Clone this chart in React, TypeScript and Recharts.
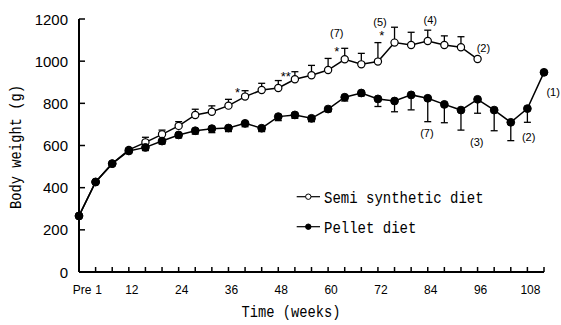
import React from "react";
import {
  ComposedChart, Line, XAxis, YAxis, ErrorBar, ReferenceDot, Legend, Label,
} from "recharts";

// weeks on the time axis (Pre = 0)
const WEEKS = [0, 4, 8, 12, 16, 20, 24, 28, 32, 36, 40, 44, 48, 52, 56, 60, 64, 68, 72, 76, 80, 84, 88, 92, 96, 100, 104, 108, 112];

// semi synthetic diet: mean and upper error (g)
const SEMI = [266, 427, 514, 579, 615, 653, 693, 745, 760, 789, 832, 863, 873, 914, 933, 958, 1009, 985, 998, 1088, 1077, 1096, 1077, 1066, 1010];
const SEMI_ERR = [0, 0, 5, 8, 24, 20, 20, 27, 28, 30, 28, 32, 35, 36, 47, 55, 52, 52, 90, 73, 60, 51, 43, 50, 0];

// pellet diet: mean and lower error (g)
const PELLET = [266, 427, 514, 574, 591, 621, 650, 670, 680, 683, 705, 682, 737, 745, 729, 773, 829, 849, 821, 811, 840, 824, 795, 768, 819, 768, 710, 775, 947];
const PELLET_ERR = [0, 0, 5, 8, 15, 14, 14, 16, 19, 17, 16, 16, 19, 16, 16, 13, 18, 14, 36, 51, 71, 111, 87, 95, 66, 98, 87, 65, 0];

const X_LABELS: Record<number, string> = {
  0: "Pre", 4: "1", 12: "12", 24: "24", 36: "36", 48: "48", 60: "60", 72: "72", 84: "84", 96: "96", 108: "108",
};
const Y_TICKS = [0, 200, 400, 600, 800, 1000, 1200];

// significance marks and group sizes, placed in data units
const NOTE_WEEK = [38.2, 49.8, 62.1, 62.1, 72.9, 72.5, 84.6, 97.4, 83.8, 95.8, 108.3, 114.2];
const NOTE_VALUE = [850, 930, 1045, 1132, 1120, 1187, 1195, 1061, 661, 618, 639, 855];
const NOTE_TEXT = ["*", "**", "*", "(7)", "*", "(5)", "(4)", "(2)", "(7)", "(3)", "(2)", "(1)"];

const SANS = "'Liberation Sans', Arial, sans-serif";
const MONO = "'Liberation Mono', 'DejaVu Sans Mono', monospace";

const data = WEEKS.map((w, i) => ({
  week: w,
  semi: i < SEMI.length ? SEMI[i] : null,
  semiErr: i < SEMI.length ? [0, SEMI_ERR[i]] : undefined,
  pellet: PELLET[i],
  pelletErr: [PELLET_ERR[i], 0],
}));

function XTick({ x, y, payload }: any) {
  const label = X_LABELS[payload.value];
  return (
    <g>
      {payload.value > 0 && (
        <line x1={x} y1={y} x2={x} y2={y - 5} stroke="#000" strokeWidth={1.5} />
      )}
      {label && (
        <text x={x + 3} y={y + 22} textAnchor="middle" fontSize={12} fontFamily={SANS} fill="#000">
          {label}
        </text>
      )}
    </g>
  );
}

function YTick({ x, y, payload }: any) {
  return (
    <g>
      <line x1={x} y1={y} x2={x + 6} y2={y} stroke="#000" strokeWidth={1.5} />
      <text x={x - 11} y={y + 5.5} textAnchor="end" fontSize={15} fontFamily={SANS} fill="#000">
        {payload.value}
      </text>
    </g>
  );
}

function renderLegend(props: any) {
  const items = props.payload || [];
  return (
    <svg width={240} height={70} style={{ overflow: "visible" }}>
      {items.map((p: any) => {
        const open = p.dataKey === "semi";
        const cy = open ? 14.7 : 44.7;
        return (
          <g key={p.value}>
            <line x1={6.7} x2={30} y1={cy} y2={cy} stroke="#000" strokeWidth={1.2} />
            <circle cx={18.3} cy={cy} r={2.7} fill={open ? "#fff" : "#000"} stroke="#000" strokeWidth={1} />
            <text
              x={34} y={cy + 6.6} fontFamily={MONO} fontSize={17} fill="#000"
              textLength={p.value.length * 8.4} lengthAdjust="spacingAndGlyphs"
            >
              {p.value}
            </text>
          </g>
        );
      })}
    </svg>
  );
}

export default function App() {
  return (
    <div style={{ position: "absolute", left: 0, top: 0, background: "#fff" }}>
      <ComposedChart
        width={561}
        height={325}
        data={data}
        margin={{ top: 19, right: 17, bottom: 0, left: 0 }}
      >
        <XAxis
          dataKey="week"
          type="number"
          domain={[0, 112]}
          ticks={WEEKS}
          interval={0}
          height={53}
          tickSize={0}
          tickMargin={0}
          tickLine={false}
          tick={<XTick />}
          axisLine={{ stroke: "#000", strokeWidth: 2 }}
        >
          <Label
            content={() => (
              <text
                x={291} y={317} textAnchor="middle" fontFamily={MONO} fontSize={17} fill="#000"
                textLength={99} lengthAdjust="spacingAndGlyphs"
              >
                Time (weeks)
              </text>
            )}
          />
        </XAxis>
        <YAxis
          type="number"
          domain={[0, 1200]}
          ticks={Y_TICKS}
          interval={0}
          width={79}
          tickSize={0}
          tickMargin={0}
          tickLine={false}
          tick={<YTick />}
          axisLine={{ stroke: "#000", strokeWidth: 2 }}
        >
          <Label
            content={() => (
              <text
                x={21} y={147} transform="rotate(-90, 21, 147)" textAnchor="middle"
                fontFamily={MONO} fontSize={17} fill="#000"
                textLength={124} lengthAdjust="spacingAndGlyphs"
              >
                Body weight (g)
              </text>
            )}
          />
        </YAxis>
        <Legend
          layout="vertical"
          align="center"
          verticalAlign="middle"
          wrapperStyle={{ left: 290, top: 182, width: 240, height: 70 }}
          content={renderLegend}
        />
        <Line
          dataKey="semi"
          name="Semi synthetic diet"
          type="linear"
          stroke="#000"
          strokeWidth={1.5}
          dot={{ r: 3.6, fill: "#fff", stroke: "#000", strokeWidth: 1.2 }}
          activeDot={false}
          connectNulls={false}
          isAnimationActive={false}
        >
          <ErrorBar dataKey="semiErr" direction="y" width={3.5} stroke="#000" strokeWidth={1.3} />
        </Line>
        <Line
          dataKey="pellet"
          name="Pellet diet"
          type="linear"
          stroke="#000"
          strokeWidth={1.5}
          dot={{ r: 3.9, fill: "#000", stroke: "#000", strokeWidth: 1 }}
          activeDot={false}
          isAnimationActive={false}
        >
          <ErrorBar dataKey="pelletErr" direction="y" width={3.5} stroke="#000" strokeWidth={1.3} />
        </Line>
        {NOTE_TEXT.map((t, i) => (
          <ReferenceDot
            key={i}
            x={NOTE_WEEK[i]}
            y={NOTE_VALUE[i]}
            r={0}
            fill="none"
            stroke="none"
            ifOverflow="visible"
            label={{
              value: t,
              position: "center",
              fontSize: t.startsWith("(") ? 11 : 13,
              fontFamily: SANS,
              fill: "#000",
            }}
          />
        ))}
      </ComposedChart>
    </div>
  );
}
